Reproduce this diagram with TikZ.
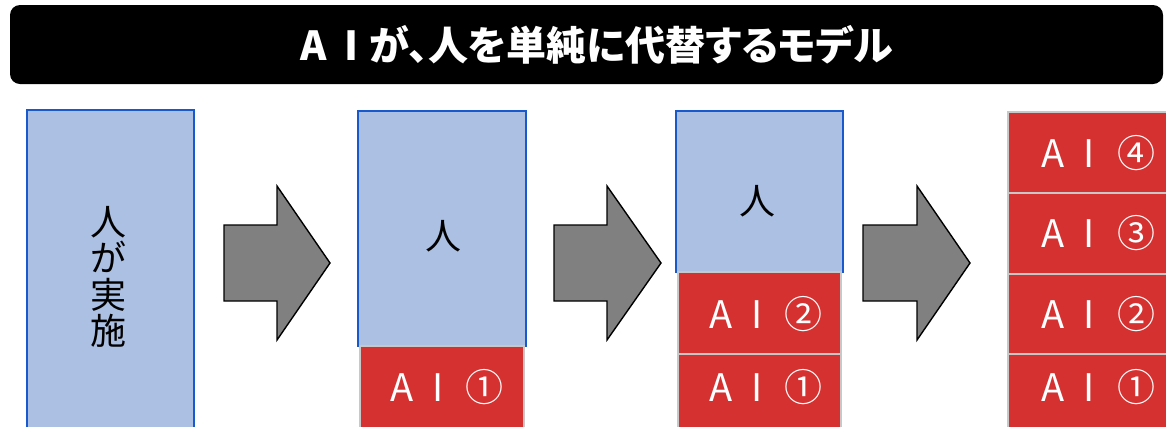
\documentclass[tikz,border=0pt]{standalone}
\usepackage{fontspec}
\newfontfamily\jp{Noto Sans CJK JP}
\newfontfamily\jpp[RawFeature=+palt]{Noto Sans CJK JP}
\definecolor{boxblue}{RGB}{171,192,226}
\definecolor{edgeblue}{RGB}{24,90,206}
\definecolor{boxred}{RGB}{213,49,49}
\definecolor{edgegray}{RGB}{200,200,200}
\definecolor{arrowgray}{RGB}{128,128,128}
\newcommand{\ailabel}[1]{\makebox[36bp]{A}\makebox[36bp]{I}\hspace{10bp}#1}
\begin{document}
\begin{tikzpicture}[x=1bp,y=-1bp,
  bluebox/.style={fill=boxblue, draw=edgeblue, line width=1.6bp},
  redbox/.style={fill=boxred, draw=edgegray, line width=2bp},
  arrowshape/.style={fill=arrowgray, draw=black, line width=1.4bp, line join=miter},
  lbl/.style={font=\jp\fontsize{36bp}{36.5bp}\selectfont, inner sep=0pt},
  ailbl/.style={inner sep=0pt, text=white, font=\jp\fontsize{38bp}{38bp}\selectfont},
  titlebar/.style={fill=black, rounded corners=10bp}]
\useasboundingbox (0,0) rectangle (1166,426);
\clip (0,0) rectangle (1166,426);
% title
\path[titlebar] (10,5) rectangle (1163,84);
\node[inner sep=0pt, text=white, font=\jpp\bfseries\fontsize{40bp}{40bp}\selectfont] (title) at (593,45) {\makebox[40bp]{A}\makebox[36bp]{I}が、人を単純に代替するモデル};
% column 1
\path[bluebox] (27,110) rectangle (194,440);
\node[lbl, align=center] (p1) at (108,277) {人\\が\\実\\施};
% arrow 1
\path[arrowshape] (224,225) -- (277,225) -- (277,186) -- (330,263) -- (277,340) -- (277,301) -- (224,301) -- cycle;
% column 2
\path[bluebox] (358,111) rectangle (526,346);
\path[redbox] (360,346) rectangle (524,440);
\node[lbl] (p2) at (443,236) {人};
\node[ailbl] (a21) at (444,387) {\ailabel{①}};
% arrow 2
\path[arrowshape] (554,225) -- (607,225) -- (607,186) -- (661,263) -- (607,340) -- (607,301) -- (554,301) -- cycle;
% column 3
\path[bluebox] (676,111) rectangle (843,272);
\path[redbox] (678,272) rectangle (841,354);
\path[redbox] (678,354) rectangle (841,440);
\node[lbl] (p3) at (757,201) {人};
\node[ailbl] (a32) at (763,314) {\ailabel{②}};
\node[ailbl] (a31) at (763,387) {\ailabel{①}};
% arrow 3
\path[arrowshape] (863,225) -- (917,225) -- (917,186) -- (970,263) -- (917,340) -- (917,301) -- (863,301) -- cycle;
% column 4
\path[redbox] (1008,112) rectangle (1175,193);
\path[redbox] (1008,193) rectangle (1175,274);
\path[redbox] (1008,274) rectangle (1175,354);
\path[redbox] (1008,354) rectangle (1175,440);
\node[ailbl] (a44) at (1095,153) {\ailabel{④}};
\node[ailbl] (a43) at (1095,233) {\ailabel{③}};
\node[ailbl] (a42) at (1095,314) {\ailabel{②}};
\node[ailbl] (a41) at (1095,387) {\ailabel{①}};
\end{tikzpicture}
\end{document}
